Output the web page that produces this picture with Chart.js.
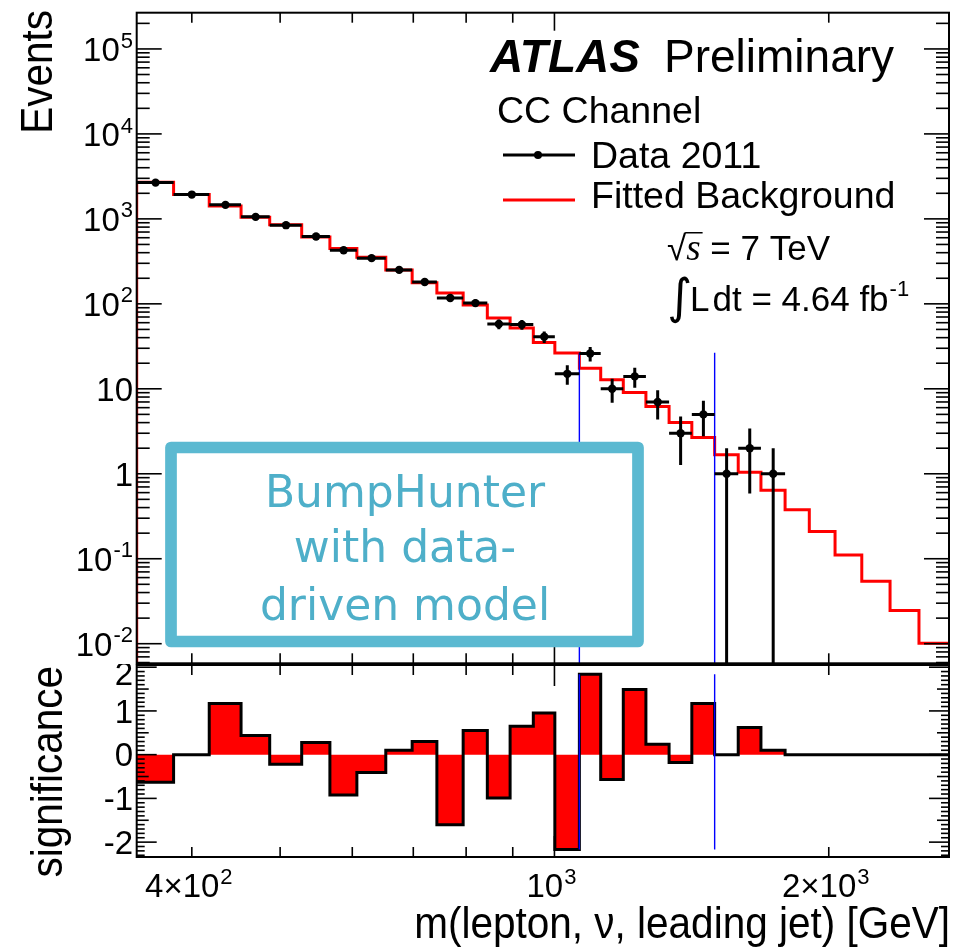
<!DOCTYPE html>
<html>
<head>
<meta charset="utf-8">
<title>m(lepton, nu, leading jet) - CC Channel</title>
<script src="https://cdn.jsdelivr.net/npm/chart.js@4.4.1/dist/chart.umd.min.js"></script>
<style>
  html, body { margin: 0; padding: 0; background: #ffffff; }
  #wrap { position: relative; width: 957px; height: 950px; overflow: hidden; }
  #wrap canvas { position: absolute; left: 0; top: 0; }
</style>
</head>
<body>
<div id="wrap">
  <canvas id="mainPad" width="957" height="950" style="width:957px;height:950px"></canvas>
  <canvas id="ratioPad" width="957" height="950" style="width:957px;height:950px"></canvas>
</div>
<script>
// ---- binning and contents (GeV, events) ----
const binEdges = [348, 382, 418, 453, 487, 528, 567, 607, 653, 698, 743, 794, 844, 894, 948,
                  1001, 1065, 1124, 1190, 1260, 1336, 1415, 1499, 1591, 1685, 1791, 1904,
                  2032, 2174, 2335, 2512, 2710];
const dataCounts = [2672, 1931, 1462, 1056, 843, 619, 428, 345, 251, 181, 117, 102, 58, 57, 41,
                    15, 26, 10, 14, 7, 3, 5, 1, 2, 1, 0, 0, 0, 0, 0, 0];
const fittedBackground = [2705, 1931, 1418, 1042, 850, 612, 447, 353, 250, 177, 134, 97, 68, 52, 35,
                          26.3, 17.5, 12.8, 9.05, 6.2, 4.0, 2.67, 1.67, 1.04, 0.64, 0.377, 0.209,
                          0.111, 0.0542, 0.0246, 0.0101];
const significance = [-0.63, 0, 1.17, 0.44, -0.22, 0.28, -0.92, -0.41, 0.10, 0.30, -1.60, 0.55, -0.99,
                      0.65, 0.95, -2.17, 1.84, -0.57, 1.49, 0.24, -0.18, 1.17, 0, 0.62, 0.10,
                      0, 0, 0, 0, 0, 0];

// most significant window found by the scan
const bumpWindow = [1065, 1499];
const bumpMarkerTop = 26.5;

// axis ranges
const massRange = [348, 2710];
const eventsRange = [0.00588, 267000];
const significanceRange = [-2.34, 2.05];

// tick marks and labels
const xTicks = [400, 500, 600, 700, 800, 900, 1000, 2000];
const xTickLabels = [
  { value: 400, mant: '4\u00d710', exp: '2' },
  { value: 1000, mant: '10', exp: '3' },
  { value: 2000, mant: '2\u00d710', exp: '3' }
];
const eventsTickLabels = [
  { value: 1e5, mant: '10', exp: '5' },
  { value: 1e4, mant: '10', exp: '4' },
  { value: 1e3, mant: '10', exp: '3' },
  { value: 1e2, mant: '10', exp: '2' },
  { value: 10, mant: '10', exp: '' },
  { value: 1, mant: '1', exp: '' },
  { value: 0.1, mant: '10', exp: '-1' },
  { value: 0.01, mant: '10', exp: '-2' }
];
const significanceTickLabels = [2, 1, 0, -1, -2];

const FONT = '"Liberation Sans", Arial, Helvetica, sans-serif';
const LABEL_SIZE = 33;
const RED = '#ff0000';
const BLUE = '#0000ff';

// ---- derived series ----
const nBins = dataCounts.length;
// step outlines: point i sits on the low edge of bin i and carries its content;
// the extra last point closes the final bin
const bkgSteps = [{ x: binEdges[0], y: eventsRange[0] }]
  .concat(binEdges.map((e, i) => ({ x: e, y: fittedBackground[Math.min(i, nBins - 1)] })));
const sigSteps = binEdges.map((e, i) => ({ x: e, y: significance[Math.min(i, nBins - 1)] }));
const dataPoints = [];
dataCounts.forEach((n, i) => {
  if (n > 0) dataPoints.push({ x: 0.5 * (binEdges[i] + binEdges[i + 1]), y: n, lo: binEdges[i], hi: binEdges[i + 1] });
});
const sigMin = Math.min(...significance);
const sigMax = Math.max(...significance);

// ---- drawing helpers ----
function powerLabel(ctx, mant, exp, x, yMid, align, size) {
  ctx.font = size + 'px ' + FONT;
  const wm = ctx.measureText(mant).width;
  const es = Math.round(size * 0.68);
  ctx.font = es + 'px ' + FONT;
  const we = exp ? ctx.measureText(exp).width + 1 : 0;
  const total = wm + we;
  const x0 = align === 'right' ? x - total : (align === 'center' ? x - total / 2 : x);
  const base = yMid + size * 0.716 / 2;
  ctx.textAlign = 'left';
  ctx.textBaseline = 'alphabetic';
  ctx.font = size + 'px ' + FONT;
  ctx.fillText(mant, x0, base);
  if (exp) {
    ctx.font = es + 'px ' + FONT;
    ctx.fillText(exp, x0 + wm + 1, base - size * 0.40);
  }
}

// axis title in a slightly condensed face, right-aligned at (x, y)
function axisTitle(ctx, text, x, y, rotated) {
  ctx.save();
  ctx.translate(x, y);
  if (rotated) ctx.rotate(-Math.PI / 2);
  ctx.scale(0.9, 1);
  ctx.font = '45px ' + FONT;
  ctx.textAlign = 'right';
  ctx.textBaseline = 'alphabetic';
  ctx.fillStyle = '#000';
  ctx.fillText(text, 0, 0);
  ctx.restore();
}

function line(ctx, x1, y1, x2, y2) {
  ctx.beginPath();
  ctx.moveTo(x1, y1);
  ctx.lineTo(x2, y2);
  ctx.stroke();
}

function drawFrameAndXTicks(chart, tickLen, longLen) {
  const ctx = chart.ctx, a = chart.chartArea, xs = chart.scales.x;
  ctx.save();
  ctx.strokeStyle = '#000';
  ctx.lineWidth = 2;
  ctx.strokeRect(a.left, a.top, a.right - a.left, a.bottom - a.top);
  ctx.lineWidth = 1.6;
  xTicks.forEach(v => {
    const px = xs.getPixelForValue(v);
    const len = (v === 1000) ? longLen : tickLen;
    line(ctx, px, a.top, px, a.top + len);
    line(ctx, px, a.bottom, px, a.bottom - len);
  });
  ctx.restore();
}

// error bars of the data points (sqrt(N) vertically, bin width horizontally)
const errorBarPlugin = {
  id: 'errorBars',
  afterDatasetsDraw(chart) {
    const ctx = chart.ctx, a = chart.chartArea, xs = chart.scales.x, ys = chart.scales.y;
    ctx.save();
    ctx.beginPath();
    ctx.rect(a.left, a.top, a.right - a.left, a.bottom - a.top);
    ctx.clip();
    ctx.strokeStyle = '#000';
    ctx.lineWidth = 3;
    dataPoints.forEach(p => {
      const px = xs.getPixelForValue(p.x);
      const py = ys.getPixelForValue(p.y);
      const err = Math.sqrt(p.y);
      const lo = p.y - err;
      const yTop = ys.getPixelForValue(p.y + err);
      const yBot = lo > eventsRange[0] ? ys.getPixelForValue(lo) : a.bottom + 2;
      line(ctx, xs.getPixelForValue(p.lo), py, xs.getPixelForValue(p.hi), py);
      line(ctx, px, yTop, px, yBot);
    });
    ctx.restore();
  }
};

const mainPadPlugin = {
  id: 'mainPadDecor',
  afterDraw(chart) {
    const ctx = chart.ctx, a = chart.chartArea, ys = chart.scales.y;
    drawFrameAndXTicks(chart, 10, 18);
    ctx.save();
    ctx.strokeStyle = '#000';
    ctx.lineWidth = 1.6;
    // logarithmic y ticks on both sides
    const dLo = Math.floor(Math.log10(eventsRange[0]));
    const dHi = Math.ceil(Math.log10(eventsRange[1]));
    for (let d = dLo; d <= dHi; d++) {
      for (let m = 1; m <= 9; m++) {
        const v = m * Math.pow(10, d);
        if (v < eventsRange[0] || v > eventsRange[1]) continue;
        const py = ys.getPixelForValue(v);
        const len = m === 1 ? 25 : 13;
        line(ctx, a.left, py, a.left + len, py);
        line(ctx, a.right, py, a.right - len, py);
      }
    }
    // y tick labels
    ctx.fillStyle = '#000';
    eventsTickLabels.forEach(t => {
      powerLabel(ctx, t.mant, t.exp, 133, ys.getPixelForValue(t.value), 'right', LABEL_SIZE);
    });
    axisTitle(ctx, 'Events', 52, 10, true);

    // ATLAS label
    ctx.textAlign = 'left';
    ctx.textBaseline = 'alphabetic';
    ctx.font = 'italic bold 46px ' + FONT;
    ctx.fillText('ATLAS', 490, 72);
    ctx.font = '46px ' + FONT;
    ctx.fillText('Preliminary', 664, 72);
    ctx.font = '37.5px ' + FONT;
    ctx.fillText('CC Channel', 497, 123);

    // legend
    ctx.fillText('Data 2011', 591, 168);
    ctx.fillText('Fitted Background', 591, 208);
    ctx.lineWidth = 3;
    ctx.strokeStyle = '#000';
    line(ctx, 503, 155, 575, 155);
    ctx.beginPath();
    ctx.arc(538, 155, 4, 0, Math.PI * 2);
    ctx.fill();
    ctx.strokeStyle = RED;
    line(ctx, 503, 200, 575, 200);

    // centre-of-mass energy
    ctx.font = '35px ' + FONT;
    let x = 667;
    ctx.fillText('\u221a', x, 260);
    const rootW = ctx.measureText('\u221a').width;
    const rootTop = 260 - ctx.measureText('\u221a').actualBoundingBoxAscent;
    x += rootW;
    ctx.font = 'italic 37px "Liberation Serif", "Times New Roman", serif';
    ctx.fillText('s', x, 260);
    const sW = ctx.measureText('s').width;
    ctx.lineWidth = 1.5;
    ctx.strokeStyle = '#000';
    line(ctx, x - 1, rootTop + 0.75, x + sW + 2, rootTop + 0.75);
    x += sW;
    ctx.font = '35px ' + FONT;
    ctx.fillText(' = 7 TeV', x, 260);

    // integrated luminosity
    ctx.font = '46px "DejaVu Sans", ' + FONT;
    const im = ctx.measureText('\u222b');
    const ih = im.actualBoundingBoxAscent + im.actualBoundingBoxDescent;
    const isz = 46 * 47 / ih;
    ctx.font = isz + 'px "DejaVu Sans", ' + FONT;
    const im2 = ctx.measureText('\u222b');
    ctx.fillText('\u222b', 667, 276 + im2.actualBoundingBoxAscent);
    ctx.font = '35px ' + FONT;
    x = 690;
    ctx.fillText('L', x, 311);
    x += ctx.measureText('L').width + 3;
    ctx.fillText('dt = 4.64 fb', x, 311);
    x += ctx.measureText('dt = 4.64 fb').width + 1;
    ctx.font = '22px ' + FONT;
    ctx.fillText('-1', x, 296);

    // annotation box
    ctx.fillStyle = '#ffffff';
    ctx.fillRect(171, 447.5, 467, 194);
    ctx.strokeStyle = '#5bb9d1';
    ctx.lineWidth = 11.7;
    ctx.lineJoin = 'round';
    ctx.strokeRect(171, 447.5, 467, 194);
    ctx.fillStyle = '#4eafc9';
    ctx.font = '44px "DejaVu Sans", sans-serif';
    ctx.textAlign = 'center';
    ctx.fillText('BumpHunter', 405, 507);
    ctx.fillText('with data-', 405, 562);
    ctx.fillText('driven model', 405, 620);
    ctx.restore();
  }
};

const ratioPadPlugin = {
  id: 'ratioPadDecor',
  afterDraw(chart) {
    const ctx = chart.ctx, a = chart.chartArea, xs = chart.scales.x, ys = chart.scales.y;
    drawFrameAndXTicks(chart, 10, 21);
    ctx.save();
    ctx.strokeStyle = '#000';
    ctx.lineWidth = 1.6;
    for (let k = Math.ceil(significanceRange[0] * 10); k <= Math.floor(significanceRange[1] * 10); k++) {
      const py = ys.getPixelForValue(k / 10);
      const len = (k % 10 === 0) ? 20 : (k % 5 === 0 ? 12 : 8);
      line(ctx, a.left, py, a.left + len, py);
      line(ctx, a.right, py, a.right - len, py);
    }
    ctx.fillStyle = '#000';
    // y tick labels (the top one is tucked under the upper pad)
    ctx.save();
    ctx.beginPath();
    ctx.rect(0, a.top - 1, a.left, 300);
    ctx.clip();
    significanceTickLabels.forEach(v => {
      let py = ys.getPixelForValue(v);
      if (v === significanceTickLabels[0]) py += 6;
      powerLabel(ctx, String(v), '', 133, py, 'right', LABEL_SIZE);
    });
    ctx.restore();
    // x tick labels
    xTickLabels.forEach(t => {
      powerLabel(ctx, t.mant, t.exp, xs.getPixelForValue(t.value) - 3, 885, 'center', LABEL_SIZE);
    });
    // axis titles
    axisTitle(ctx, 'm(lepton, \u03bd, leading jet) [GeV]', 950, 938, false);
    axisTitle(ctx, 'significance', 62, 666, true);
    ctx.restore();
  }
};

const commonOptions = (padding, yScale) => ({
  responsive: false,
  animation: false,
  events: [],
  layout: { padding },
  plugins: { legend: { display: false }, tooltip: { enabled: false } },
  scales: {
    x: { type: 'logarithmic', min: massRange[0], max: massRange[1], display: false },
    y: yScale
  }
});

new Chart(document.getElementById('mainPad'), {
  type: 'line',
  data: {
    datasets: [
      { label: 'Data 2011', data: dataPoints, showLine: false, pointRadius: 4.2,
        pointBackgroundColor: '#000', pointBorderColor: '#000', pointBorderWidth: 0, order: 1 },
      { label: 'window low edge', data: [{ x: bumpWindow[0], y: eventsRange[0] }, { x: bumpWindow[0], y: bumpMarkerTop }],
        borderColor: BLUE, borderWidth: 1.4, pointRadius: 0, order: 2 },
      { label: 'window high edge', data: [{ x: bumpWindow[1], y: eventsRange[0] }, { x: bumpWindow[1], y: bumpMarkerTop }],
        borderColor: BLUE, borderWidth: 1.4, pointRadius: 0, order: 2 },
      { label: 'Fitted Background', data: bkgSteps, stepped: 'before', borderColor: RED, borderWidth: 3,
        pointRadius: 0, fill: false, order: 3 }
    ]
  },
  options: commonOptions({ left: 136.7, top: 12.7, right: 8, bottom: 950 - 663.3 },
    { type: 'logarithmic', min: eventsRange[0], max: eventsRange[1], display: false }),
  plugins: [errorBarPlugin, mainPadPlugin]
});

new Chart(document.getElementById('ratioPad'), {
  type: 'line',
  data: {
    datasets: [
      { label: 'window low edge', data: [{ x: bumpWindow[0], y: sigMin }, { x: bumpWindow[0], y: sigMax }],
        borderColor: BLUE, borderWidth: 1.4, pointRadius: 0, order: 1 },
      { label: 'window high edge', data: [{ x: bumpWindow[1], y: sigMin }, { x: bumpWindow[1], y: sigMax }],
        borderColor: BLUE, borderWidth: 1.4, pointRadius: 0, order: 1 },
      { label: 'significance', data: sigSteps, stepped: 'before', borderColor: '#000', borderWidth: 3,
        backgroundColor: RED, fill: { value: 0 }, pointRadius: 0, order: 2 }
    ]
  },
  options: commonOptions({ left: 136.7, top: 665, right: 8, bottom: 950 - 857 },
    { type: 'linear', min: significanceRange[0], max: significanceRange[1], display: false }),
  plugins: [ratioPadPlugin]
});
</script>
</body>
</html>
